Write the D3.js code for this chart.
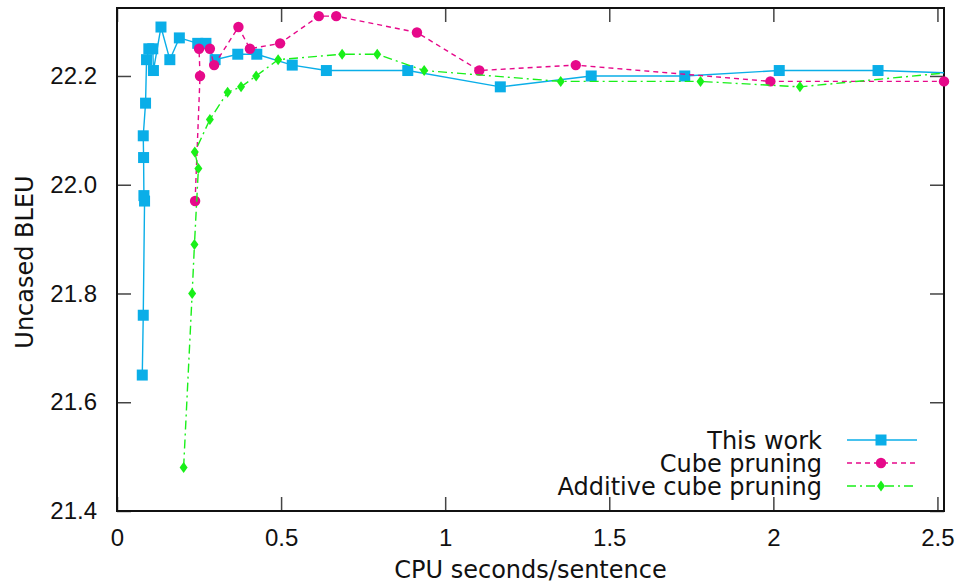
<!DOCTYPE html>
<meta charset="utf-8">
<style>
body{margin:0;background:#fff;}
text{font-family:"DejaVu Sans",sans-serif;fill:#111;}
.tick text{font-family:"Liberation Sans",sans-serif;font-size:24px;}
.tick line{stroke:#444;stroke-width:1.5px;}
</style>
<body>
<script src="https://cdn.jsdelivr.net/npm/d3@7"></script>
<script>
// series values (x = CPU s/sentence, y = BLEU)
var thisWorkX = [0.077,0.080,0.084,0.082,0.081,0.080,0.087,0.090,0.097,0.109,0.111,0.134,0.161,0.190,0.246,0.271,0.299,0.368,0.426,0.534,0.638,0.886,1.168,1.445,1.730,2.018,2.319,2.80];
var thisWorkY = [21.65,21.76,21.97,21.98,22.05,22.09,22.15,22.23,22.25,22.25,22.21,22.29,22.23,22.27,22.26,22.26,22.23,22.24,22.24,22.22,22.21,22.21,22.18,22.20,22.20,22.21,22.21,22.20];

var cubeX = [0.238,0.253,0.250,0.283,0.296,0.370,0.405,0.497,0.615,0.668,0.914,1.104,1.398,1.991,2.520];
var cubeY = [21.97,22.20,22.25,22.25,22.22,22.29,22.25,22.26,22.31,22.31,22.28,22.21,22.22,22.19,22.19];

var additiveX = [0.203,0.229,0.236,0.248,0.237,0.283,0.337,0.378,0.424,0.491,0.686,0.793,0.936,1.352,1.778,2.081,2.60];
var additiveY = [21.48,21.80,21.89,22.03,22.06,22.12,22.17,22.18,22.20,22.23,22.24,22.24,22.21,22.19,22.19,22.18,22.21];

var seriesNames = ["This work","Cube pruning","Additive cube pruning"];
var xTicks = [0,0.5,1,1.5,2,2.5];
var yTicks = [21.4,21.6,21.8,22.0,22.2];

var W = 959, H = 584;
var m = {left:117, right:15, top:8, bottom:73};

var x = d3.scaleLinear().domain([0,2.52]).range([m.left, W-m.right]);
var y = d3.scaleLinear().domain([21.4,22.325]).range([H-m.bottom, m.top]);

var svg = d3.select("body").append("svg").attr("width",W).attr("height",H);

svg.append("clipPath").attr("id","plot")
  .append("rect").attr("x",m.left).attr("y",m.top)
  .attr("width",W-m.left-m.right).attr("height",H-m.top-m.bottom);

// axes, ticks pointing inward, mirrored on top/right
var tk = 14;
svg.append("g").attr("transform","translate(0,"+(H-m.bottom)+")")
  .call(d3.axisBottom(x).tickValues(xTicks).tickSizeInner(-tk).tickSizeOuter(0).tickPadding(12).tickFormat(d3.format("")))
  .call(g=>g.select(".domain").remove())
  .selectAll("text").attr("dy","0.95em");
svg.append("g").attr("transform","translate(0,"+m.top+")")
  .call(d3.axisTop(x).tickValues(xTicks).tickSizeInner(-tk).tickSizeOuter(0).tickFormat(""))
  .call(g=>g.select(".domain").remove());
svg.append("g").attr("transform","translate("+m.left+",0)")
  .call(d3.axisLeft(y).tickValues(yTicks).tickSizeInner(-tk).tickSizeOuter(0).tickPadding(20).tickFormat(d3.format(".1f")))
  .call(g=>g.select(".domain").remove());
svg.append("g").attr("transform","translate("+(W-m.right)+",0)")
  .call(d3.axisRight(y).tickValues(yTicks).tickSizeInner(-tk).tickSizeOuter(0).tickFormat(""))
  .call(g=>g.select(".domain").remove());

svg.append("rect").attr("x",m.left).attr("y",m.top)
  .attr("width",W-m.left-m.right).attr("height",H-m.top-m.bottom)
  .attr("fill","none").attr("stroke","#111").attr("stroke-width",2);

svg.append("text").attr("x",(m.left+W-m.right)/2).attr("y",578)
  .attr("text-anchor","middle").style("font-size","24px").text("CPU seconds/sentence");
svg.append("text").attr("transform","translate(33,262) rotate(-90)")
  .attr("text-anchor","middle").style("font-size","24px").text("Uncased BLEU");

var diamond = {draw:function(c,s){var a=4,b=5.5;c.moveTo(0,-b);c.lineTo(a,0);c.lineTo(0,b);c.lineTo(-a,0);c.closePath();}};

var series = [
  {name:seriesNames[0], xs:thisWorkX, ys:thisWorkY, color:"#0aaee8", dash:null, sym:d3.symbol(d3.symbolSquare,121)},
  {name:seriesNames[1], xs:cubeX, ys:cubeY, color:"#e6098a", dash:"5,4", sym:d3.symbol(d3.symbolCircle,85)},
  {name:seriesNames[2], xs:additiveX, ys:additiveY, color:"#19f019", dash:"9,4,2,4", sym:d3.symbol(diamond)}
];

var line = d3.line().x(d=>x(d[0])).y(d=>y(d[1]));

series.forEach(function(s,i){
  var pts = s.xs.map((v,j)=>[v,s.ys[j]]);
  svg.append("path").datum(pts).attr("d",line)
    .attr("clip-path","url(#plot)")
    .attr("fill","none").attr("stroke",s.color).attr("stroke-width",1.4)
    .attr("stroke-dasharray",s.dash);
  svg.append("g").selectAll("path").data(pts.filter(d=>d[0]<=x.domain()[1]))
    .join("path").attr("d",s.sym)
    .attr("transform",d=>"translate("+x(d[0])+","+y(d[1])+")")
    .attr("fill",s.color);

  // legend row
  var ly = 440 + i*23;
  svg.append("text").attr("x",822).attr("y",ly).attr("dy","0.36em")
    .attr("text-anchor","end").style("font-size","24px").text(s.name);
  svg.append("line").attr("x1",847).attr("x2",917).attr("y1",ly).attr("y2",ly)
    .attr("stroke",s.color).attr("stroke-width",1.4).attr("stroke-dasharray",s.dash);
  svg.append("path").attr("d",s.sym).attr("transform","translate(881,"+ly+")").attr("fill",s.color);
});
</script>
</body>
